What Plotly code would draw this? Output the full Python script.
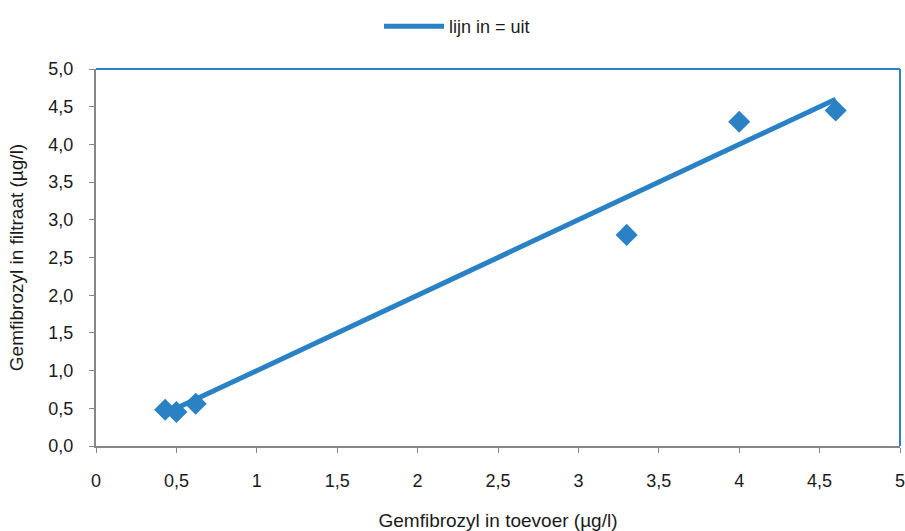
import plotly.graph_objects as go

# Gemfibrozyl measurements: feed (toevoer) vs filtrate (filtraat), µg/l
toevoer = [0.43, 0.50, 0.62, 3.30, 4.00, 4.60]
filtraat = [0.48, 0.45, 0.56, 2.80, 4.30, 4.45]

# reference line in = uit
lijn_x = [0.5, 4.6]
lijn_y = [0.5, 4.6]

x_ticks = [0, 0.5, 1, 1.5, 2, 2.5, 3, 3.5, 4, 4.5, 5]
x_ticktext = ["0", "0,5", "1", "1,5", "2", "2,5", "3", "3,5", "4", "4,5", "5"]
y_ticks = [0, 0.5, 1, 1.5, 2, 2.5, 3, 3.5, 4, 4.5, 5]
y_ticktext = ["0,0", "0,5", "1,0", "1,5", "2,0", "2,5", "3,0", "3,5", "4,0", "4,5", "5,0"]

blue = "#2a82c4"
grey = "#868686"
font_family = "Liberation Sans, Arial, sans-serif"

fig = go.Figure()
fig.add_trace(go.Scatter(
    x=toevoer, y=filtraat, mode="markers", showlegend=False,
    marker=dict(symbol="diamond", size=17, color=blue),
    cliponaxis=False,
))
fig.add_trace(go.Scatter(
    x=lijn_x, y=lijn_y, mode="lines", name="lijn in = uit",
    line=dict(color=blue, width=5),
))

fig.update_layout(
    width=905, height=531,
    margin=dict(l=96, r=5, t=69, b=85),
    paper_bgcolor="white", plot_bgcolor="white",
    font=dict(family=font_family, size=18, color="#1a1a1a"),
    legend=dict(orientation="h", x=0.352, xanchor="left", xref="paper",
                y=0.985, yanchor="top", yref="container",
                font=dict(family=font_family, size=18), itemwidth=60),
    showlegend=True,
)

fig.update_xaxes(
    range=[0, 5], tickvals=x_ticks, ticktext=x_ticktext,
    showgrid=False, zeroline=False, automargin=False,
    showline=True, linecolor=grey, linewidth=2,
    ticks="outside", ticklen=5, tickcolor=grey, tickwidth=1,
    tickfont=dict(family=font_family, size=18), ticklabelstandoff=12,
    ticklabeloverflow="allow",
    title=dict(text="Gemfibrozyl in toevoer (µg/l)", standoff=26,
               font=dict(family=font_family, size=19)),
)
fig.update_yaxes(
    range=[0, 5], tickvals=y_ticks, ticktext=y_ticktext,
    showgrid=False, zeroline=False, automargin=False,
    showline=True, linecolor=grey, linewidth=2,
    ticks="outside", ticklen=5, tickcolor=grey, tickwidth=1,
    tickfont=dict(family=font_family, size=18), ticklabelstandoff=12,
    title=dict(text="Gemfibrozyl in filtraat (µg/l)", standoff=20,
               font=dict(family=font_family, size=19)),
)

# blue border along the top and right of the plot area
fig.add_shape(type="line", xref="paper", yref="paper", x0=0, x1=1, y0=1, y1=1,
              line=dict(color=blue, width=2))
fig.add_shape(type="line", xref="paper", yref="paper", x0=1, x1=1, y0=0, y1=1,
              line=dict(color=blue, width=2))

fig.write_html("out.html")
